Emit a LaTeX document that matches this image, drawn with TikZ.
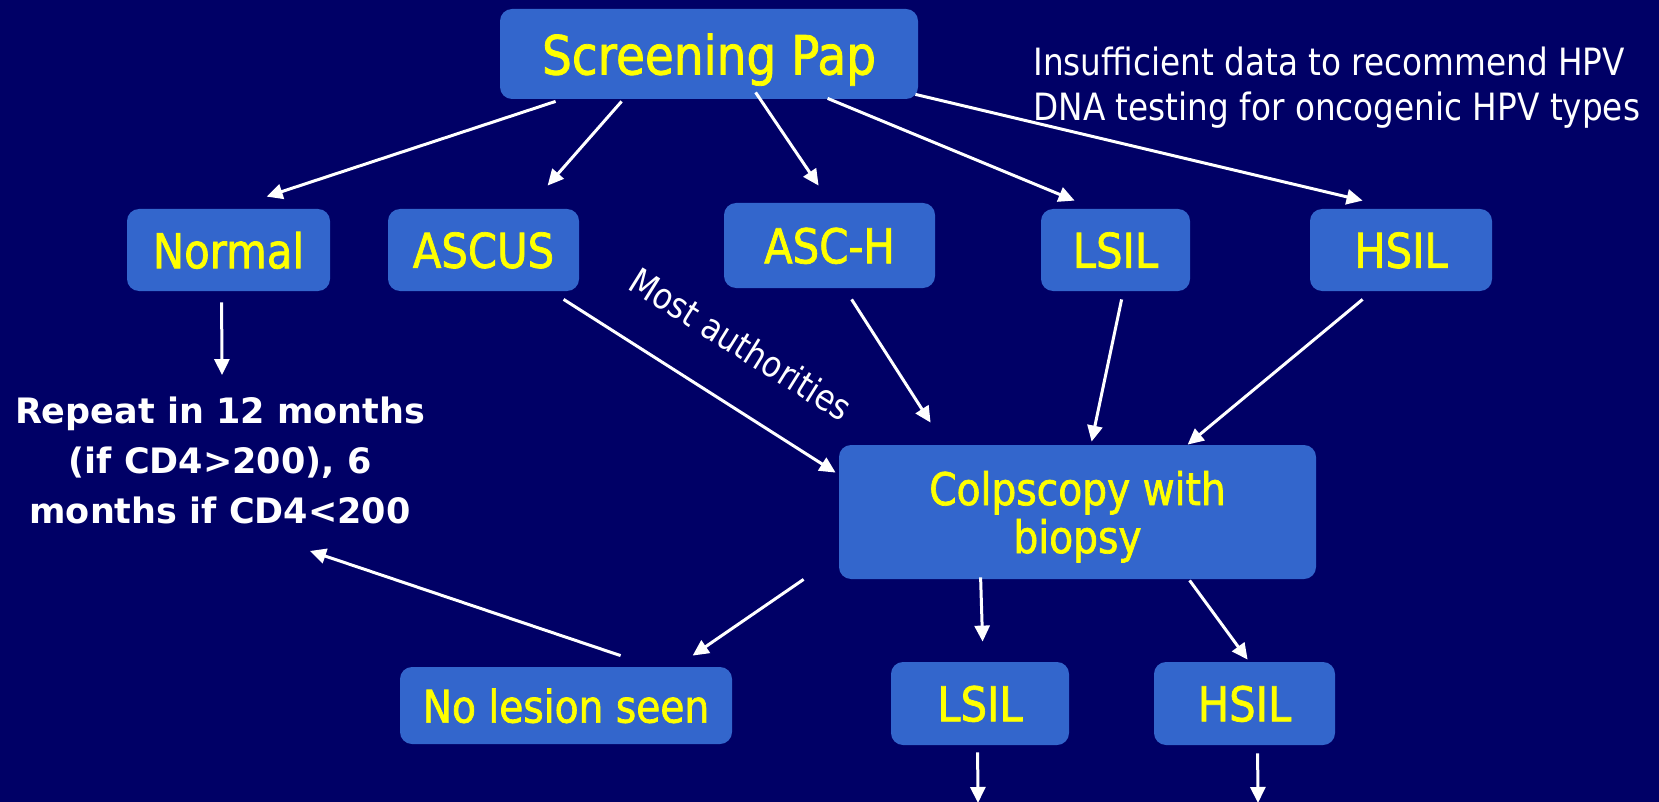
\documentclass[tikz,border=0pt]{standalone}
\usepackage{fontspec}
\setmainfont{DejaVu Sans}
\newfontfamily\slidefont{DejaVu Sans}[FakeStretch=0.87]
\newfontfamily\labelfont{DejaVu Sans}[FakeStretch=0.87,FakeBold=1.5]
\usetikzlibrary{arrows.meta,calc,positioning}
\definecolor{slidebg}{HTML}{000066}
\definecolor{boxblue}{HTML}{3366CC}
\definecolor{papyellow}{HTML}{FFFF00}
\tikzset{
  result/.style={fill=boxblue, rounded corners=6pt, text=papyellow, inner sep=0pt, text depth=0pt,
    font=\labelfont\fontsize{24}{28}\selectfont},
  flow/.style={draw=white, line width=1.5pt, -{Triangle[length=8pt,width=7.5pt]}},
  note/.style={text=white, inner sep=0pt}
}
\begin{document}
\begin{tikzpicture}[x=0.5pt, y=-0.5pt]
  \fill[slidebg] (0,0) rectangle (1659,802);
  \useasboundingbox (0,0) rectangle (1659,802);

  % first row
  \node[result, minimum width=209pt, minimum height=45pt,
    font=\labelfont\fontsize{27}{32}\selectfont] (pap) at (709,54) {Screening Pap};
  \node[result, minimum width=101.5pt, minimum height=41pt] (normal) at (228.5,250) {Normal};
  \node[result, minimum width=95.5pt, minimum height=41pt] (ascus) at (483.5,250) {ASCUS};
  \node[result, minimum width=105.5pt, minimum height=42.5pt] (asch) at (829.5,245.5) {ASC-H};
  \node[result, minimum width=74.5pt, minimum height=41pt] (lsil) at (1115.5,250) {LSIL};
  \node[result, minimum width=91pt, minimum height=41pt] (hsil) at (1401,250) {HSIL};

  % colposcopy and its outcomes
  \node[result, minimum width=238.5pt, minimum height=67pt, align=center,
    font=\labelfont\fontsize{22.5}{24}\selectfont] (colp) at (1077.5,512) {Colpscopy with\\biopsy};
  \node[result, minimum width=166pt, minimum height=38.5pt,
    font=\labelfont\fontsize{22.5}{24}\selectfont] (nolesion) at (566,705.5) {No lesion seen};
  \node[result, minimum width=89pt, minimum height=41.5pt] (lsilb) at (980,703.5) {LSIL};
  \node[result, minimum width=90.5pt, minimum height=41.5pt] (hsilb) at (1244.5,703.5) {HSIL};

  % free texts
  \node[note, align=center, font=\bfseries\fontsize{17.5}{25}\selectfont] (repeat) at (220,460)
    {Repeat in 12 months\\(if CD4>200), 6\\months if CD4<200};
  \node[note, align=left, anchor=west, font=\slidefont\fontsize{18.8}{22.5}\selectfont] (nodata) at (1033,88)
    {Insufficient data to recommend HPV\\DNA testing for oncogenic HPV types};
  \node[note, rotate=-32, font=\slidefont\fontsize{18}{22}\selectfont] (most) at (741,344) {Most authorities};

  \coordinate (lsilnext) at (978,803);
  \coordinate (hsilnext) at (1258,803);

  % arrows
  \draw[flow] ($(pap.south west)+(56,2)$) -- ($(normal.north west)+(140,-12)$);
  \draw[flow] ($(pap.south west)+(122,2)$) -- ($(ascus.north west)+(160,-23)$);
  \draw[flow] ($(pap.south west)+(256,-7)$) -- ($(asch.north west)+(95,-17)$);
  \draw[flow] ($(pap.south west)+(328,-1)$) -- ($(lsil.north west)+(34,-8)$);
  \draw[flow] ($(pap.south east)+(-3,-5)$) -- ($(hsil.north west)+(53,-8)$);
  \draw[flow] ($(normal.south west)+(95,11)$) -- ($(repeat.north)+(2,-21)$);
  \draw[flow] ($(ascus.south west)+(176,8)$) -- ($(colp.north west)+(-3,28)$);
  \draw[flow] ($(asch.south west)+(128,11)$) -- ($(colp.north west)+(92,-22)$);
  \draw[flow] ($(lsil.south west)+(81,8)$) -- ($(colp.north west)+(253,-3)$);
  \draw[flow] ($(hsil.south west)+(53,8)$) -- ($(colp.north west)+(349,0)$);
  \draw[flow] ($(colp.south west)+(-35,0)$) -- ($(nolesion.north west)+(293,-11)$);
  \draw[flow] ($(nolesion.north west)+(221,-11)$) -- ($(repeat.south)+(90,27)$);
  \draw[flow] ($(colp.south west)+(142,-2)$) -- ($(lsilb.north west)+(92,-20)$);
  \draw[flow] ($(colp.south west)+(351,1)$) -- ($(hsilb.north west)+(94,-2)$);
  \draw[flow] ($(lsilb.south west)+(87,7)$) -- (lsilnext);
  \draw[flow] ($(hsilb.south west)+(104,8)$) -- (hsilnext);
\end{tikzpicture}
\end{document}
